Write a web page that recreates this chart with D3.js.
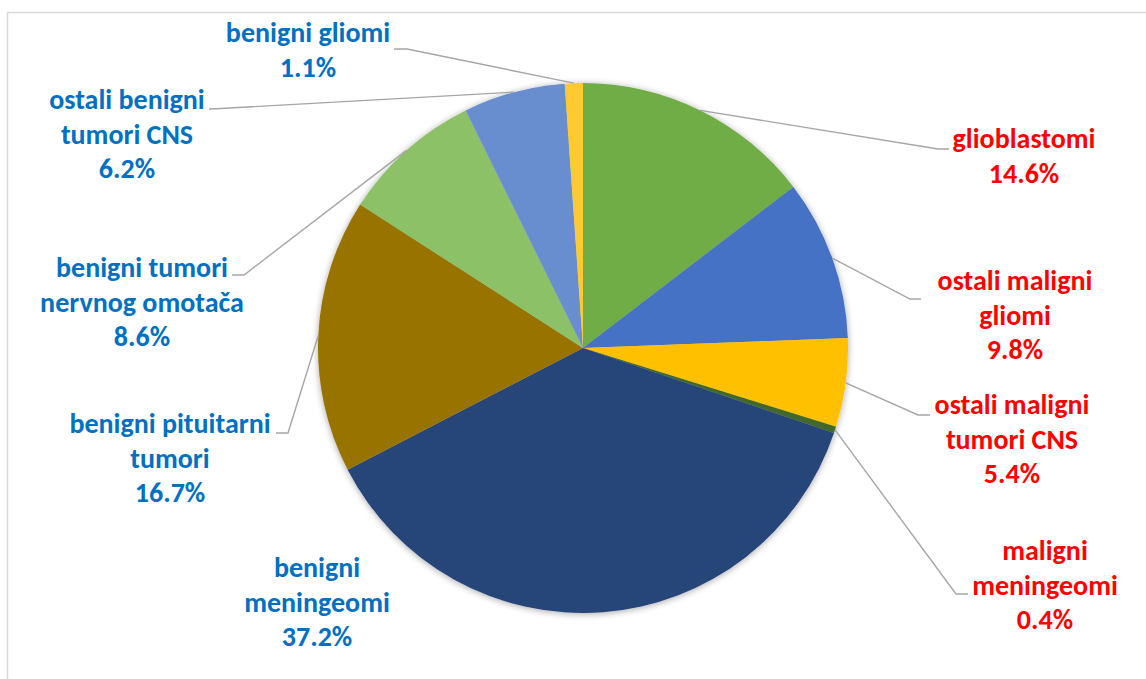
<!DOCTYPE html>
<html>
<head>
<meta charset="utf-8">
<script src="https://cdn.jsdelivr.net/npm/d3@7"></script>
<style>
  html, body { margin: 0; padding: 0; background: #fff; }
  svg { display: block; }
  .lbl { font-family: Calibri, Carlito, Lato, "Open Sans", sans-serif; font-weight: 700; font-size: 28px; }
</style>
</head>
<body>
<svg id="chart" width="1146" height="679"></svg>
<script>
// Tumour categories, clockwise from 12 o'clock
const categories = [
  "glioblastomi",
  "ostali maligni gliomi",
  "ostali maligni tumori CNS",
  "maligni meningeomi",
  "benigni meningeomi",
  "benigni pituitarni tumori",
  "benigni tumori nervnog omotača",
  "ostali benigni tumori CNS",
  "benigni gliomi"
];
// Share of each category, in percent
const shares = [14.6, 9.8, 5.4, 0.4, 37.2, 16.7, 8.6, 6.2, 1.1];
// Malignant (true) or benign (false)
const malignant = [true, true, true, true, false, false, false, false, false];
// Category names split over label lines
const labelLines = [
  ["glioblastomi"],
  ["ostali maligni", "gliomi"],
  ["ostali maligni", "tumori CNS"],
  ["maligni", "meningeomi"],
  ["benigni", "meningeomi"],
  ["benigni pituitarni", "tumori"],
  ["benigni tumori", "nervnog omotača"],
  ["ostali benigni", "tumori CNS"],
  ["benigni gliomi"]
];

// Slice fills
const sliceColors = ["#70AD47", "#4472C4", "#FFC000", "#43682B", "#264478",
                     "#997300", "#8CC168", "#698ED0", "#FFCA2E"];
const textColors = { malignant: "#FF0000", benign: "#0070C0" };

// Label placement: centre x and first baseline of the text block,
// plus the leader's elbow and the end of its short horizontal stub
const labelLayout = [
  { x: 1024, y: 148, elbow: [938, 149], stub: [949, 149] },
  { x: 1015, y: 290, elbow: [910, 299], stub: [921, 299] },
  { x: 1012, y: 414, elbow: [918, 415], stub: [930, 415] },
  { x: 1045, y: 560, elbow: [956, 594], stub: [968, 594] },
  { x: 317,  y: 577, elbow: null,        stub: null },
  { x: 170,  y: 433, elbow: [288, 433], stub: [276, 433] },
  { x: 142,  y: 277, elbow: [244, 275], stub: [232, 275] },
  { x: 127,  y: 109, elbow: [221, 108.5], stub: [209, 109] },
  { x: 308,  y: 42,  elbow: [407, 49],  stub: [394, 49] }
];

const W = 1146, H = 679;
const cx = 583, cy = 348, R = 265;
const lineHeight = 34.5;

const svg = d3.select("#chart");

// chart-area frame
svg.append("rect")
  .attr("x", 7.5).attr("y", 12.5)
  .attr("width", W).attr("height", H)
  .attr("fill", "#fff")
  .attr("stroke", "#D9D9D9").attr("stroke-width", 1.5);

// soft shadow under the pie
const defs = svg.append("defs");
const f = defs.append("filter").attr("id", "pieShadow")
  .attr("x", "-10%").attr("y", "-10%").attr("width", "120%").attr("height", "120%");
f.append("feGaussianBlur").attr("in", "SourceAlpha").attr("stdDeviation", 3.5).attr("result", "b");
f.append("feOffset").attr("in", "b").attr("dx", 0).attr("dy", 1).attr("result", "o");
f.append("feComponentTransfer").attr("in", "o").attr("result", "s")
  .append("feFuncA").attr("type", "linear").attr("slope", 0.35);
const m = f.append("feMerge");
m.append("feMergeNode").attr("in", "s");
m.append("feMergeNode").attr("in", "SourceGraphic");

const pie = d3.pie().sort(null).value(d => d).startAngle(0).endAngle(2 * Math.PI);
const arcs = pie(shares);
const arc = d3.arc().innerRadius(0).outerRadius(R);
const edge = d3.arc().innerRadius(R).outerRadius(R);

const g = svg.append("g").attr("transform", `translate(${cx},${cy})`);
g.append("g").attr("filter", "url(#pieShadow)")
  .selectAll("path")
  .data(arcs)
  .join("path")
  .attr("d", arc)
  .attr("fill", (d, i) => sliceColors[i]);

// leader lines: slice edge -> elbow -> short horizontal stub
const leaders = svg.append("g")
  .attr("fill", "none").attr("stroke", "#A6A6A6").attr("stroke-width", 1.4);
arcs.forEach((d, i) => {
  const L = labelLayout[i];
  if (!L.elbow) return;
  const [ex, ey] = edge.centroid(d);
  leaders.append("path")
    .attr("d", d3.line()([[cx + ex, cy + ey], L.elbow, L.stub]));
});

// data labels: category name and percentage
const fmt = d3.format(".1f");
arcs.forEach((d, i) => {
  const L = labelLayout[i];
  const lines = labelLines[i].concat([fmt(shares[i]) + "%"]);
  const t = svg.append("text")
    .attr("class", "lbl")
    .attr("text-anchor", "middle")
    .attr("fill", malignant[i] ? textColors.malignant : textColors.benign);
  lines.forEach((s, k) => {
    t.append("tspan").attr("x", L.x).attr("y", L.y + k * lineHeight).text(s);
  });
});
</script>
</body>
</html>
